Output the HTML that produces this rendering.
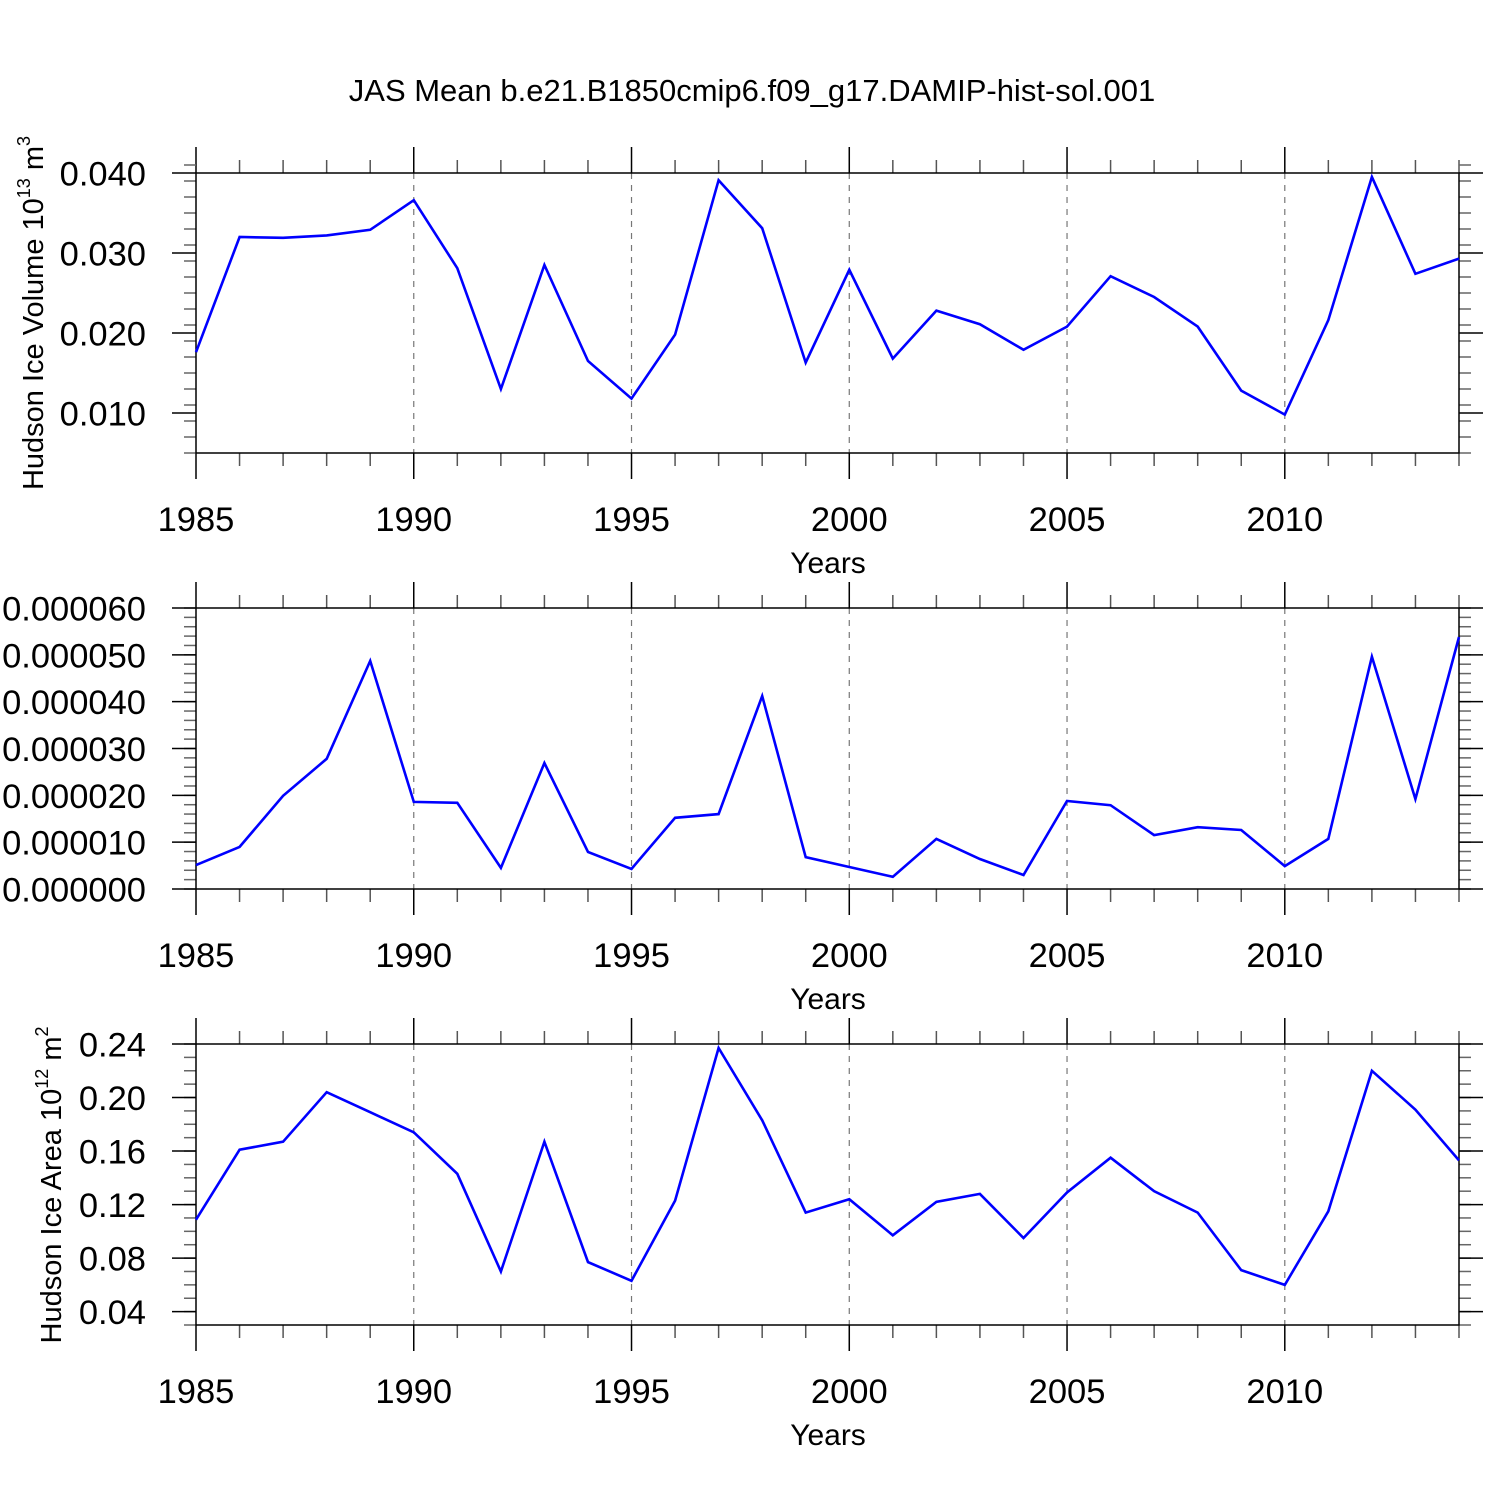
<!DOCTYPE html>
<html><head><meta charset="utf-8">
<style>
html,body{margin:0;padding:0;background:#fff;}
svg{display:block;font-family:"Liberation Sans",Arial,sans-serif;}
</style></head>
<body>
<svg id="chart" width="1500" height="1500" viewBox="0 0 1500 1500" xmlns="http://www.w3.org/2000/svg">
<rect width="1500" height="1500" fill="#fff"/>
<text x="752" y="101" font-size="31" text-anchor="middle">JAS Mean b.e21.B1850cmip6.f09_g17.DAMIP-hist-sol.001</text>
</svg>
<script>
const years = [1985,1986,1987,1988,1989,1990,1991,1992,1993,1994,1995,1996,1997,1998,1999,2000,2001,2002,2003,2004,2005,2006,2007,2008,2009,2010,2011,2012,2013,2014];
const volumeValues = [0.0176,0.0320,0.0319,0.0322,0.0329,0.0366,0.0281,0.0130,0.0285,0.0165,0.0118,0.0198,0.0391,0.0331,0.0163,0.0279,0.0168,0.0228,0.0211,0.0179,0.0208,0.0271,0.0245,0.0208,0.0128,0.0098,0.0216,0.0395,0.0274,0.0293];
const middleValues = [0.0000051,0.0000090,0.0000199,0.0000278,0.0000487,0.0000186,0.0000184,0.0000045,0.0000269,0.0000079,0.0000043,0.0000152,0.0000160,0.0000412,0.0000068,0.0000047,0.0000026,0.0000107,0.0000064,0.0000030,0.0000188,0.0000179,0.0000115,0.0000132,0.0000126,0.0000049,0.0000107,0.0000496,0.0000192,0.0000538];
const areaValues = [0.1087,0.161,0.167,0.204,0.189,0.174,0.143,0.070,0.167,0.077,0.063,0.123,0.237,0.183,0.114,0.124,0.097,0.122,0.128,0.095,0.129,0.155,0.130,0.114,0.071,0.060,0.115,0.220,0.191,0.153];
const volumeTicks = [0.010,0.020,0.030,0.040];
const volumeTickLabels = ["0.010","0.020","0.030","0.040"];
const middleTicks = [0,0.00001,0.00002,0.00003,0.00004,0.00005,0.00006];
const middleTickLabels = ["0.000000","0.000010","0.000020","0.000030","0.000040","0.000050","0.000060"];
const areaTicks = [0.04,0.08,0.12,0.16,0.20,0.24];
const areaTickLabels = ["0.04","0.08","0.12","0.16","0.20","0.24"];
const xTicks = [1985,1990,1995,2000,2005,2010];
const xTickLabels = ["1985","1990","1995","2000","2005","2010"];

const NS = "http://www.w3.org/2000/svg";
const svg = document.getElementById('chart');
const X0 = 196, X1 = 1459;
function mk(tag, attrs, parent){
  const e = document.createElementNS(NS, tag);
  for (const k in attrs) e.setAttribute(k, attrs[k]);
  (parent||svg).appendChild(e);
  return e;
}
function xScale(yr){ return X0 + (yr - 1985) / (2014 - 1985) * (X1 - X0); }

const panels = [
  {name:'volume', top:173, bottom:453, ymin:0.005, ymax:0.040, vals:volumeValues, ticks:volumeTicks, labels:volumeTickLabels, minorStep:0.002, title:'vol'},
  {name:'middle', top:608, bottom:889, ymin:0, ymax:0.00006, vals:middleValues, ticks:middleTicks, labels:middleTickLabels, minorStep:0.000002, title:null},
  {name:'area', top:1044, bottom:1325, ymin:0.03, ymax:0.24, vals:areaValues, ticks:areaTicks, labels:areaTickLabels, minorStep:0.01, title:'area'}
];

panels.forEach(p => {
  const g = mk('g', {});
  
  
  const ys = v => p.bottom - (v - p.ymin) / (p.ymax - p.ymin) * (p.bottom - p.top);
  xTicks.forEach(t => {
    if (t === 1985) return;
    const l = mk('line', {x1:xScale(t), x2:xScale(t), y1:p.top, y2:p.bottom, stroke:'#777', 'stroke-width':1.2, 'stroke-dasharray':'6,6'}, g);
    
    
  });
  for (let yr = 1985; yr <= 2014; yr++) {
    const major = (yr % 5 === 0);
    const len = major ? 26 : 13;
    const c = major ? '#000' : '#555';
    mk('line', {x1:xScale(yr), x2:xScale(yr), y1:p.top, y2:p.top - len, stroke:c, 'stroke-width':1.5}, g);
    mk('line', {x1:xScale(yr), x2:xScale(yr), y1:p.bottom, y2:p.bottom + len, stroke:c, 'stroke-width':1.5}, g);
  }
  const nMin = Math.round((p.ymax - p.ymin) / p.minorStep);
  for (let i = 0; i <= nMin; i++) {
    const v = p.ymin + i * p.minorStep;
    const y = ys(v);
    mk('line', {x1:X0, x2:X0 - 12, y1:y, y2:y, stroke:'#666', 'stroke-width':1.5}, g);
    mk('line', {x1:X1, x2:X1 + 12, y1:y, y2:y, stroke:'#666', 'stroke-width':1.5}, g);
  }
  p.ticks.forEach((v, i) => {
    const y = ys(v);
    mk('line', {x1:X0, x2:X0 - 24, y1:y, y2:y, stroke:'#000', 'stroke-width':1.5}, g);
    mk('line', {x1:X1, x2:X1 + 24, y1:y, y2:y, stroke:'#000', 'stroke-width':1.5}, g);
    const t = mk('text', {x:146, y:y + 12.5, 'font-size':34.5, 'text-anchor':'end'}, g);
    t.textContent = p.labels[i];
    
    
  });
  xTicks.forEach((t, i) => {
    const tx = mk('text', {x:xScale(t), y:p.bottom + 78, 'font-size':34.5, 'text-anchor':'middle'}, g);
    tx.textContent = xTickLabels[i];
    
    
  });
  const xt = mk('text', {x:828, y:p.bottom + 120, 'font-size':30, 'text-anchor':'middle'}, g);
  xt.textContent = 'Years';
  
  
  const fr = mk('rect', {x:X0, y:p.top, width:X1 - X0, height:p.bottom - p.top, fill:'none', stroke:'#000', 'stroke-width':1.5}, g);
  
  
  const pts = p.vals.map((v, i) => xScale(years[i]).toFixed(1) + ',' + ys(v).toFixed(1)).join(' ');
  const pl = mk('polyline', {points:pts, fill:'none', stroke:'#0000ff', 'stroke-width':2.6, 'stroke-linejoin':'miter'}, g);
  
  
  if (p.title === 'vol') {
    const t = mk('text', {transform:'translate(43,313) rotate(-90)', 'font-size':29, 'text-anchor':'middle'}, g);
    t.innerHTML = 'Hudson Ice Volume 10<tspan font-size="18" dy="-13">13</tspan><tspan dy="13"> m</tspan><tspan font-size="18" dy="-13">3</tspan>';
    
    
  } else if (p.title === 'area') {
    const t = mk('text', {transform:'translate(61,1185) rotate(-90)', 'font-size':29, 'text-anchor':'middle'}, g);
    t.innerHTML = 'Hudson Ice Area 10<tspan font-size="18" dy="-13">12</tspan><tspan dy="13"> m</tspan><tspan font-size="18" dy="-13">2</tspan>';
    
    
  }
});
</script>
</body></html>
